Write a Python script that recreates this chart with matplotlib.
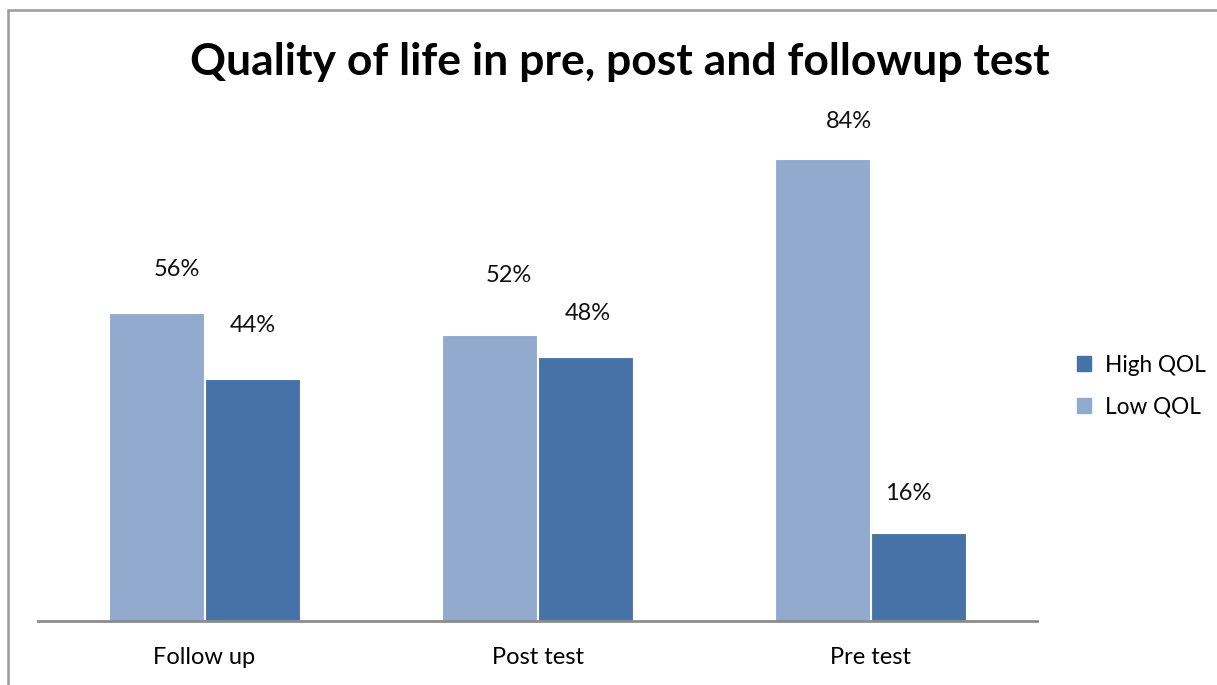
import numpy as np
import matplotlib.pyplot as plt
from matplotlib.patches import Rectangle, Patch

# データ
categories = ['Follow up', 'Post test', 'Pre test']
low_qol = [56, 52, 84]
high_qol = [44, 48, 16]

# 色
c_low = '#93AACF'
c_high = '#4672A8'

plt.rcParams['font.family'] = ['Lato', 'DejaVu Sans']

fig = plt.figure(figsize=(12.17, 6.85), dpi=100)
ax = fig.add_axes([38 / 1217, 64 / 685, 999 / 1217, 495 / 685])

x = np.arange(len(categories))
w = 0.283
b_low = ax.bar(x - w / 2 - 0.003, low_qol, w, color=c_low, edgecolor='white', linewidth=0.8)
b_high = ax.bar(x + w / 2 + 0.003, high_qol, w, color=c_high, edgecolor='white', linewidth=0.8)

# ラベル位置のずれ（ピクセル）
low_off = [(20, 43), (19, 59), (27, 37)]
high_off = [(0, 54), (2, 44), (-10, 40)]
for bars, vals, offs in [(b_low, low_qol, low_off), (b_high, high_qol, high_off)]:
    for bar, v, (dx, dy) in zip(bars, vals, offs):
        ax.annotate(f'{v}%', (bar.get_x() + bar.get_width() / 2, v),
                    xytext=(dx, dy), textcoords='offset pixels',
                    ha='center', va='center', fontsize=17, color='#111111')

ax.set_xlim(-0.5, 2.5)
ax.set_ylim(0, 90)
ax.set_xticks(x)
ax.set_xticklabels(categories, fontsize=17)
ax.tick_params(axis='x', length=0, pad=19)
ax.set_yticks([])
for s in ['top', 'right', 'left']:
    ax.spines[s].set_visible(False)
ax.spines['bottom'].set_color('#8C8C8C')
ax.spines['bottom'].set_linewidth(2)

fig.text(620 / 1217, 1 - 62 / 685, 'Quality of life in pre, post and followup test',
         ha='center', va='center', fontsize=32, fontweight='bold')

handles = [Patch(color=c_high, label='High QOL'), Patch(color=c_low, label='Low QOL')]
fig.legend(handles=handles, loc='center left', bbox_to_anchor=(1072 / 1217, 1 - 386 / 685),
           frameon=False, fontsize=16.3, handlelength=0.65, handleheight=0.65,
           handletextpad=0.6, labelspacing=0.9, borderpad=0.2, borderaxespad=0)

# 外枠
fig.patches.append(Rectangle((8 / 1217, -0.1), 2, 1.1 - 10 / 685,
                             transform=fig.transFigure, fill=False,
                             edgecolor='#9A9A9A', linewidth=1.8))

plt.savefig('out.png', dpi=100)
